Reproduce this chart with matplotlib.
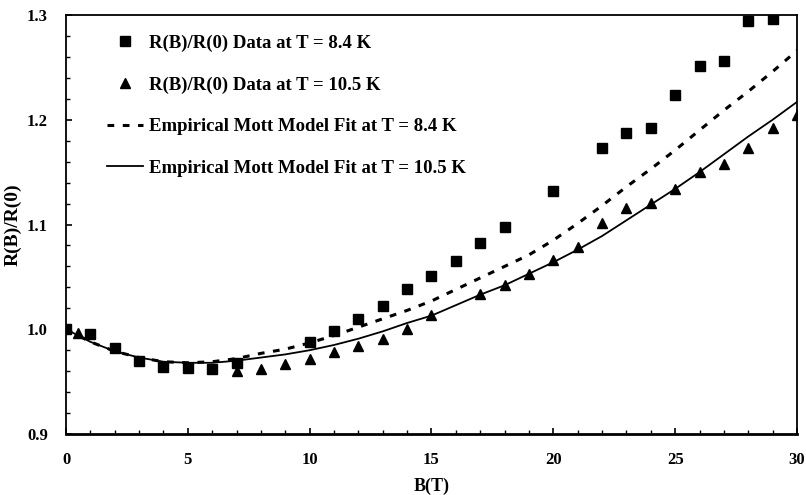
import matplotlib
matplotlib.use("Agg")
import matplotlib.pyplot as plt
import matplotlib.ticker as mticker

plt.rcParams["font.family"] = ["Liberation Serif", "DejaVu Serif"]
plt.rcParams["font.weight"] = "bold"

# ---------------------------------------------------------
# Data
# ---------------------------------------------------------
b_sq = [0, 1, 2, 3, 4, 5, 6, 7, 10, 11, 12, 13, 14, 15, 16, 17, 18, 20,
        22, 23, 24, 25, 26, 27, 28, 29]
r_sq = [1.000, 0.995, 0.982, 0.970, 0.964, 0.963, 0.962, 0.968, 0.988,
        0.998, 1.010, 1.022, 1.038, 1.051, 1.065, 1.082, 1.098, 1.132,
        1.173, 1.187, 1.192, 1.224, 1.251, 1.256, 1.294, 1.296]

b_tri = [0.5, 7, 8, 9, 10, 11, 12, 13, 14, 15, 17, 18, 19, 20, 21, 22,
         23, 24, 25, 26, 27, 28, 29, 30]
r_tri = [0.996, 0.960, 0.962, 0.967, 0.972, 0.978, 0.984, 0.991, 1.000,
         1.014, 1.034, 1.042, 1.053, 1.066, 1.079, 1.101, 1.116, 1.121,
         1.134, 1.150, 1.158, 1.173, 1.192, 1.205]

b_fit = list(range(0, 31))
fit_84 = [1.000, 0.988, 0.979, 0.973, 0.969, 0.968, 0.969, 0.972, 0.977,
          0.981, 0.987, 0.994, 1.002, 1.010, 1.018, 1.027, 1.038, 1.049,
          1.060, 1.071, 1.085, 1.101, 1.118, 1.136, 1.153, 1.171, 1.190,
          1.209, 1.227, 1.246, 1.266]
fit_105 = [1.000, 0.988, 0.979, 0.973, 0.969, 0.968, 0.968, 0.970, 0.973,
           0.976, 0.980, 0.985, 0.991, 0.998, 1.006, 1.013, 1.023, 1.033,
           1.042, 1.053, 1.064, 1.076, 1.089, 1.104, 1.119, 1.134, 1.150,
           1.167, 1.184, 1.200, 1.217]

# ---------------------------------------------------------
# Plot
# ---------------------------------------------------------
fig = plt.figure(figsize=(8.06, 4.95), dpi=100)
ax = fig.add_axes([0.0819, 0.1232, 0.9069, 0.8465])

ax.plot(b_sq, r_sq, "s", color="black", markersize=6.5, linestyle="none",
        label="R(B)/R(0) Data at T = 8.4 K")
ax.plot(b_tri, r_tri, "^", color="black", markersize=7, linestyle="none",
        label="R(B)/R(0) Data at T = 10.5 K")
ax.plot(b_fit, fit_84, color="black", linewidth=2.2, dashes=(2.2, 2.8),
        label="Empirical Mott Model Fit at T = 8.4 K")
ax.plot(b_fit, fit_105, color="black", linewidth=1.3,
        label="Empirical Mott Model Fit at T = 10.5 K")

ax.set_xlim(0, 30)
ax.set_ylim(0.9, 1.3)
ax.xaxis.set_major_locator(mticker.MultipleLocator(5))
ax.xaxis.set_minor_locator(mticker.MultipleLocator(1))
ax.yaxis.set_major_locator(mticker.MultipleLocator(0.1))
ax.yaxis.set_minor_locator(mticker.MultipleLocator(0.02))
ax.yaxis.set_major_formatter(mticker.FormatStrFormatter("%.1f"))
ax.tick_params(which="both", direction="in", top=False, right=False,
               labelsize=12)
ax.tick_params(axis="x", which="major", pad=13)
ax.tick_params(axis="y", which="major", pad=13)
ax.tick_params(which="major", length=4, width=1.2)
ax.tick_params(which="minor", length=3, width=1.0)
for s in ax.spines.values():
    s.set_linewidth(1.3)
ax.spines["bottom"].set_linewidth(2)

ax.set_xlabel("B(T)", fontsize=13, fontweight="bold", labelpad=7)
ax.set_ylabel("R(B)/R(0)", fontsize=14, fontweight="bold", labelpad=4)

ax.legend(loc="upper left", bbox_to_anchor=(0.056, 0.953), frameon=False,
          borderaxespad=0, borderpad=0, handlelength=1.92,
          handletextpad=0.3, labelspacing=1.3,
          prop={"weight": "bold", "size": 13.5})

fig.savefig("out.png", dpi=100)
